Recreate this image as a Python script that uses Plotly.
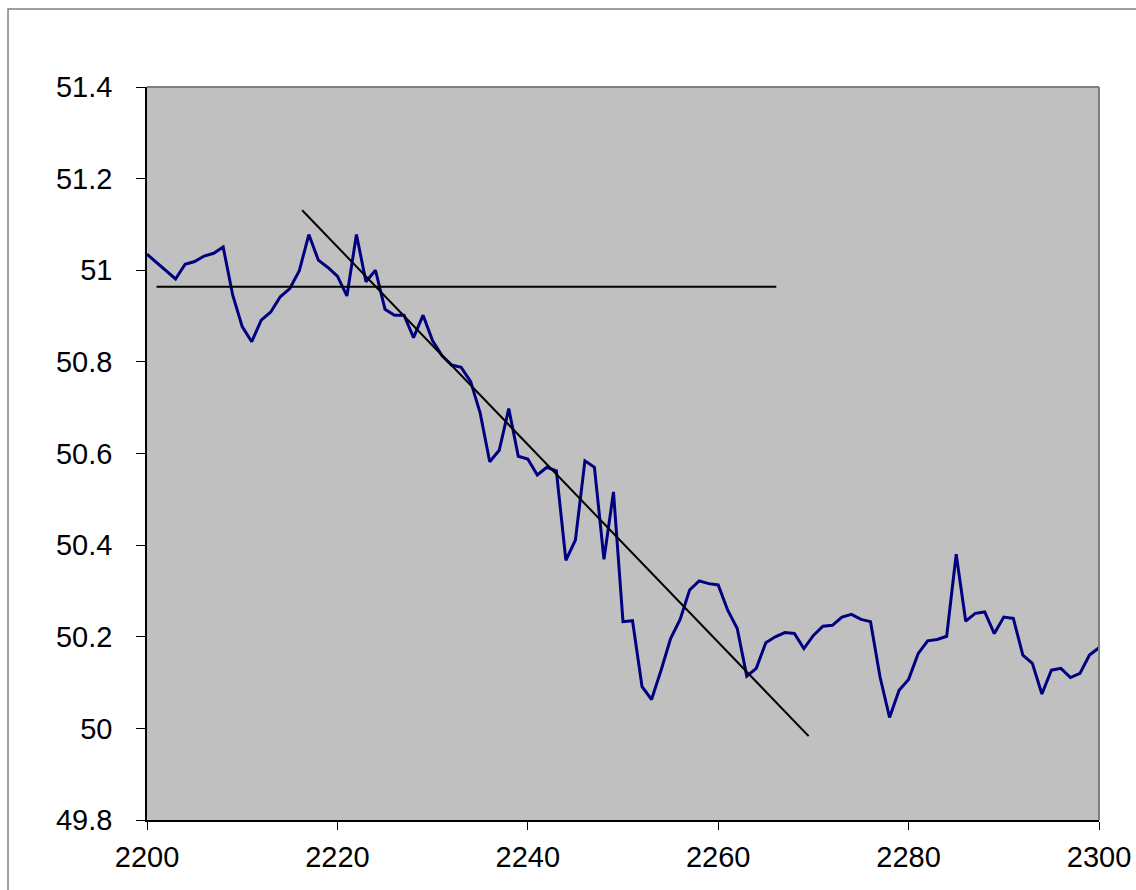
import plotly.graph_objects as go

# Sample index and measured value
x_vals = list(range(2200, 2302))
y_vals = [
    51.035, 51.017, 50.999, 50.981, 51.013, 51.019, 51.031, 51.037, 51.051, 50.946,
    50.877, 50.844, 50.891, 50.909, 50.942, 50.960, 50.999, 51.078, 51.022, 51.006,
    50.987, 50.944, 51.078, 50.975, 51.000, 50.915, 50.902, 50.902, 50.853, 50.902,
    50.846, 50.813, 50.793, 50.788, 50.757, 50.688, 50.582, 50.607, 50.698, 50.594,
    50.588, 50.553, 50.570, 50.562, 50.367, 50.411, 50.584, 50.570, 50.369, 50.516,
    50.233, 50.235, 50.091, 50.063, 50.127, 50.196, 50.238, 50.302, 50.322, 50.316,
    50.313, 50.258, 50.218, 50.114, 50.131, 50.187, 50.200, 50.209, 50.207, 50.174,
    50.203, 50.223, 50.225, 50.243, 50.249, 50.238, 50.233, 50.112, 50.024, 50.083,
    50.107, 50.163, 50.191, 50.194, 50.201, 50.380, 50.234, 50.251, 50.254, 50.207,
    50.243, 50.240, 50.160, 50.142, 50.075, 50.127, 50.131, 50.111, 50.120, 50.160,
    50.176, 50.140,
]

# Horizontal level line
level_x = [2201.0, 2266.1]
level_y = [50.964, 50.964]

# Downward trend line
trend_x = [2216.3, 2269.5]
trend_y = [51.131, 49.983]

x_ticks = [2200, 2220, 2240, 2260, 2280, 2300]
y_ticks = [49.8, 50.0, 50.2, 50.4, 50.6, 50.8, 51.0, 51.2, 51.4]
y_tick_text = ["49.8", "50", "50.2", "50.4", "50.6", "50.8", "51", "51.2", "51.4"]

font_family = "Liberation Sans, Arial, sans-serif"

fig = go.Figure()
fig.add_trace(go.Scatter(
    x=x_vals, y=y_vals, mode="lines",
    line=dict(color="#000080", width=3),
    showlegend=False, hoverinfo="skip",
))
fig.add_trace(go.Scatter(
    x=level_x, y=level_y, mode="lines",
    line=dict(color="#000000", width=2),
    showlegend=False, hoverinfo="skip",
))
fig.add_trace(go.Scatter(
    x=trend_x, y=trend_y, mode="lines",
    line=dict(color="#000000", width=2),
    showlegend=False, hoverinfo="skip",
))

fig.update_layout(
    width=1136, height=890,
    margin=dict(l=147, r=37, t=87, b=70),
    paper_bgcolor="#FFFFFF",
    plot_bgcolor="#C0C0C0",
    font=dict(family=font_family, size=29, color="#000000"),
    xaxis=dict(
        range=[2200, 2300], tickvals=x_ticks,
        showgrid=False, zeroline=False, automargin=False,
        showline=True, linecolor="#000000", linewidth=1.5,
        ticks="outside", ticklen=8, tickwidth=1, tickcolor="#000000",
        ticklabelstandoff=2,
    ),
    yaxis=dict(
        range=[49.8, 51.4], tickvals=y_ticks, ticktext=y_tick_text,
        showgrid=False, zeroline=False, automargin=False,
        showline=True, linecolor="#000000", linewidth=1.5,
        ticks="outside", ticklen=9, tickwidth=1, tickcolor="#000000",
        ticklabelstandoff=18,
    ),
    shapes=[
        # grey top and right edges of the plot area
        dict(type="line", xref="paper", yref="paper", x0=0, x1=1, y0=1, y1=1,
             line=dict(color="#808080", width=2)),
        dict(type="line", xref="paper", yref="paper", x0=1, x1=1, y0=0, y1=1,
             line=dict(color="#808080", width=2)),
        # outer chart frame
        dict(type="rect", xref="paper", yref="paper",
             x0=-0.146, x1=1.05, y0=-0.12, y1=1.1064,
             line=dict(color="#808080", width=1.5), fillcolor="rgba(0,0,0,0)"),
    ],
)

fig.write_html("out.html")
